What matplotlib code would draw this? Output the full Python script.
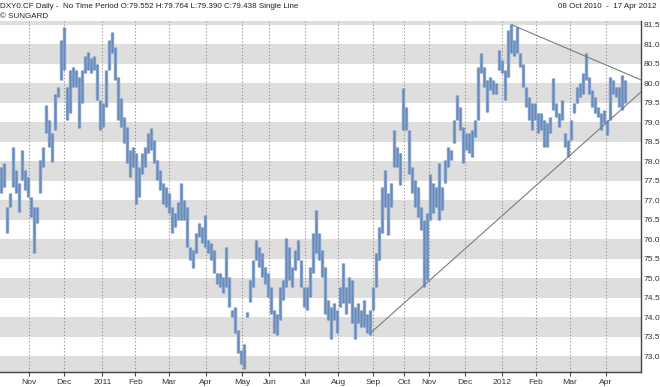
import numpy as np
import matplotlib
matplotlib.use("Agg")
import matplotlib.pyplot as plt

plt.rcParams["font.family"] = ["Liberation Sans", "DejaVu Sans"]

# ---- data (DXY0.CF daily, sampled high/low ranges) ----
highs = [77.85, 77.94, 76.83, 77.17, 78.37, 77.77, 77.43, 78.28, 77.77, 77.60,
         77.09, 76.83, 76.83, 78.03, 78.37, 79.44, 79.05, 78.71, 79.73, 79.91,
         81.10, 81.44, 79.91, 80.33, 80.42, 80.33, 80.16, 80.33, 80.68, 80.80,
         80.63, 80.68, 80.50, 79.56, 79.48, 80.33, 81.10, 81.32, 80.93, 80.16,
         79.61, 79.14, 78.88, 78.28, 78.37, 78.20, 77.85, 78.20, 78.37, 78.71,
         78.84, 78.54, 78.03, 77.77, 77.43, 77.34, 77.17, 76.83, 76.66, 76.96,
         77.43, 77.00, 76.83, 75.80, 75.72, 76.15, 76.40, 76.32, 76.62, 75.97,
         75.89, 75.72, 75.12, 75.12, 75.03, 75.80, 75.03, 74.18, 74.26, 73.67,
         73.15, 73.32, 74.14, 74.95, 75.46, 75.97, 75.80, 75.63, 75.29, 75.12,
         74.78, 74.18, 74.09, 74.78, 74.95, 76.02, 75.80, 75.29, 75.72, 75.97,
         75.46, 74.78, 74.78, 75.29, 76.15, 76.74, 76.15, 75.72, 75.29, 74.44,
         74.26, 74.35, 74.18, 74.78, 75.38, 74.78, 75.03, 74.95, 74.26, 74.35,
         74.18, 74.44, 74.09, 74.18, 74.78, 75.63, 76.32, 77.34, 77.77, 77.17,
         77.43, 78.79, 78.37, 78.20, 79.86, 79.39, 78.79, 77.85, 77.51, 77.34,
         76.83, 76.49, 76.66, 77.68, 77.43, 77.34, 77.94, 77.34, 78.03, 78.37,
         78.28, 79.05, 79.69, 79.39, 78.88, 78.71, 78.71, 78.79, 79.05, 80.42,
         80.76, 80.42, 80.08, 80.16, 80.08, 79.99, 80.85, 80.59, 80.33, 81.36,
         81.51, 81.10, 81.44, 80.76, 80.50, 79.91, 79.65, 79.48, 79.48, 79.22,
         79.22, 79.05, 78.97, 79.14, 80.12, 79.48, 79.22, 79.56, 78.71, 78.54,
         79.05, 79.48, 79.91, 79.99, 80.25, 80.76, 80.16, 79.82, 79.65, 79.39,
         79.22, 79.31, 79.05, 80.16, 80.08, 79.91, 79.91, 80.20, 80.08]
lows = [77.17, 77.34, 76.15, 76.83, 77.34, 77.17, 76.70, 77.51, 77.26, 77.09,
        76.57, 75.63, 76.40, 77.17, 77.85, 78.71, 78.37, 77.98, 78.79, 79.65,
        80.08, 80.33, 79.05, 79.22, 79.91, 79.91, 78.84, 79.48, 80.25, 80.33,
        80.25, 80.33, 79.56, 78.79, 78.88, 79.39, 80.33, 80.76, 80.08, 79.05,
        78.88, 78.45, 77.94, 77.60, 77.85, 76.91, 77.09, 77.68, 77.85, 78.20,
        78.28, 77.94, 77.51, 77.26, 76.91, 76.83, 76.66, 76.15, 76.32, 76.49,
        76.49, 76.49, 75.80, 75.46, 75.25, 75.63, 76.06, 75.89, 75.80, 75.63,
        75.46, 75.12, 74.86, 74.78, 74.61, 74.78, 74.26, 74.01, 73.58, 73.07,
        72.81, 72.68, 74.01, 74.39, 74.78, 75.46, 75.29, 75.03, 74.86, 74.52,
        74.09, 73.58, 73.54, 73.92, 74.44, 74.78, 74.95, 74.78, 75.21, 75.46,
        74.78, 74.26, 74.18, 74.52, 75.12, 75.63, 75.46, 75.03, 74.09, 73.92,
        73.45, 73.92, 73.58, 74.26, 74.35, 74.09, 74.35, 73.84, 73.45, 73.84,
        73.75, 73.75, 73.58, 73.54, 74.18, 74.78, 75.46, 76.15, 76.83, 76.10,
        76.83, 77.85, 77.85, 77.38, 78.79, 78.79, 77.68, 77.17, 76.83, 76.57,
        76.23, 74.78, 74.95, 76.49, 76.66, 76.83, 76.49, 76.74, 77.43, 77.85,
        78.03, 78.45, 79.05, 78.79, 77.94, 78.28, 78.20, 78.11, 78.62, 79.05,
        80.25, 79.91, 79.26, 79.82, 79.73, 79.73, 80.33, 80.25, 79.56, 80.16,
        80.76, 80.68, 80.76, 80.42, 79.91, 79.39, 79.05, 78.79, 79.05, 78.71,
        78.79, 78.37, 78.37, 78.71, 79.31, 79.14, 78.88, 79.05, 78.37, 78.11,
        78.54, 79.22, 79.48, 79.65, 79.73, 80.08, 79.73, 79.39, 79.22, 79.14,
        78.79, 78.97, 78.67, 79.05, 79.73, 79.65, 79.39, 79.31, 79.48]

month_labels = ["Nov", "Dec", "2011", "Feb", "Mar", "Apr", "May", "Jun", "Jul",
                "Aug", "Sep", "Oct", "Nov", "Dec", "2012", "Feb", "Mar", "Apr"]
month_pos = [9.27, 20.73, 33.6, 44.6, 55.73, 68.17, 80.17, 89.27, 101.27,
             112.27, 123.93, 134.17, 142.6, 154.6, 166.73, 178.17, 189.5, 201.5]

# trend lines: (sample index, value) endpoints
support_x = [122.83, 213.17]
support_y = [73.58, 79.77]
resist_x = [170.17, 213.17]
resist_y = [81.49, 80.08]

y_ticks = [73.0 + 0.5 * i for i in range(18)]

# ---- figure ----
W, H = 660, 387
fig = plt.figure(figsize=(W / 100, H / 100), dpi=100)
ax = fig.add_axes([0.0, 15.3 / H, 641.3 / W, (371.7 - 21) / H])

ax.set_xlim(-0.5, 213.27)
ax.set_ylim(72.60, 81.59)

# alternating horizontal bands
for n in range(73, 83):
    ax.axhspan(n - 0.5, n, color="#dedede", lw=0, zorder=0)

# dotted vertical grid
for p in month_pos:
    ax.axvline(p, color="#8a8a8a", lw=0.8, ls=(0, (1, 2)), zorder=1)

x = np.arange(len(highs))
ax.vlines(x, lows, highs, color="#819fc8", lw=2.4, zorder=2)
ax.vlines(x, lows, highs, color="#5a7fb0", lw=0.45, zorder=3)

ax.plot(support_x, support_y, color="#6f8181", lw=0.8, zorder=4)
ax.plot(resist_x, resist_y, color="#6f8181", lw=0.8, zorder=4)

for s in ["top", "left"]:
    ax.spines[s].set_visible(False)
ax.spines["right"].set_color("#444444")
ax.spines["bottom"].set_color("#444444")
ax.spines["right"].set_linewidth(1.0)
ax.spines["bottom"].set_linewidth(1.0)

ax.yaxis.tick_right()
ax.set_yticks(y_ticks)
ax.set_yticklabels([f"{v:.1f}" for v in y_ticks])
ax.tick_params(axis="y", length=0, pad=1.5, labelsize=6.1, labelcolor="#333333")
ax.set_xticks(month_pos)
ax.set_xticklabels(month_labels)
ax.tick_params(axis="x", length=3, width=0.8, color="#444444", pad=2,
               labelsize=6.1, labelcolor="#333333")

fig.text(0.5 / W, 1 - 6.5 / H,
         "DXY0.CF Daily -  No Time Period O:79.552 H:79.764 L:79.390 C:79.438 Single Line",
         fontsize=5.8, color="#222222", va="center", ha="left")
fig.text(0.5 / W, 1 - 16 / H, "© SUNGARD", fontsize=5.8, color="#222222",
         va="center", ha="left")
fig.text(656 / W, 1 - 6.5 / H, "08 Oct 2010  -  17 Apr 2012", fontsize=5.8,
         color="#222222", va="center", ha="right")

fig.savefig("out.png", dpi=100)
